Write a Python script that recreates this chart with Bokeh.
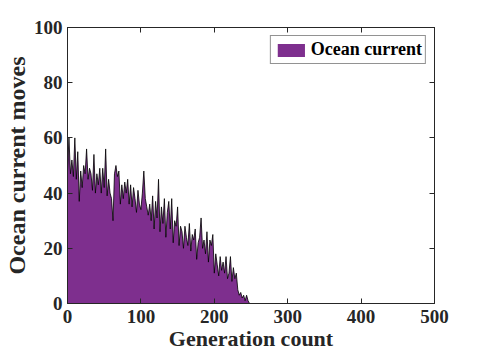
from bokeh.plotting import figure
from bokeh.models import Range1d, LinearAxis, FixedTicker, Legend, LegendItem, ColumnDataSource
from bokeh.embed import file_html
from bokeh.resources import INLINE

generations = list(range(0, 252, 2))
moves = [48, 60, 47, 52, 46, 60, 45, 55, 37, 48,
         42, 50, 47, 56, 45, 49, 47, 41, 54, 40,
         47, 43, 49, 40, 49, 42, 56, 39, 45, 40,
         38, 30, 47, 50, 46, 48, 36, 43, 38, 44,
         40, 45, 36, 43, 35, 42, 38, 33, 41, 36,
         34, 40, 48, 38, 35, 32, 36, 30, 39, 27,
         37, 31, 45, 26, 35, 29, 38, 24, 33, 37,
         27, 38, 22, 30, 28, 35, 21, 28, 26, 20,
         28, 24, 21, 29, 19, 25, 23, 27, 16, 22,
         24, 31, 20, 23, 18, 26, 15, 23, 21, 25,
         11, 18, 14, 10, 17, 12, 15, 11, 17, 9,
         11, 17, 8, 13, 9, 11, 5, 3, 4, 2,
         3, 1, 3, 1, 0, 0]
x_ticks = [0, 100, 200, 300, 400, 500]
y_ticks = [0, 20, 40, 60, 80, 100]
series_name = "Ocean current"

FONT = "Liberation Serif"
TXT = "#262626"

src = ColumnDataSource(dict(x=generations, y=moves))

p = figure(width=472, height=356, output_backend="svg", toolbar_location=None,
           x_range=Range1d(0, 500), y_range=Range1d(0, 100),
           min_border_left=66, min_border_right=38, min_border_top=27, min_border_bottom=53)
p.grid.visible = False
p.outline_line_color = TXT
p.outline_line_width = 1

area = p.varea(x="x", y1=0, y2="y", source=src, fill_color="#7E2F8E")
p.line(x="x", y="y", source=src, line_color="black", line_width=0.8)

def style(ax, labels=True, label_size="22px"):
    ax.axis_line_color = TXT
    ax.major_tick_line_color = TXT
    ax.major_tick_in = 5
    ax.major_tick_out = 0
    ax.minor_tick_line_color = None
    ax.major_label_text_font = FONT
    ax.major_label_text_font_style = "bold"
    ax.major_label_text_font_size = "19px"
    ax.major_label_text_color = TXT
    ax.axis_label_text_font = FONT
    ax.axis_label_text_font_style = "bold"
    ax.axis_label_text_font_size = label_size
    ax.axis_label_text_color = TXT
    if not labels:
        ax.major_label_text_font_size = "0px"
        ax.major_label_text_color = None

p.xaxis.ticker = FixedTicker(ticks=x_ticks)
p.yaxis.ticker = FixedTicker(ticks=y_ticks)
p.xaxis.axis_label = "Generation count"
p.yaxis.axis_label = "Ocean current moves"
p.xaxis.major_label_standoff = 6
p.yaxis.major_label_standoff = 5
p.xaxis.axis_label_standoff = 0
p.yaxis.axis_label_standoff = 1
style(p.xaxis[0], True, "22px")
style(p.yaxis[0], True, "24px")

top = LinearAxis(ticker=FixedTicker(ticks=x_ticks))
right = LinearAxis(ticker=FixedTicker(ticks=y_ticks))
style(top, False)
style(right, False)
p.add_layout(top, "above")
p.add_layout(right, "right")

legend = Legend(items=[LegendItem(label=series_name, renderers=[area])],
                location="top_right", margin=8, padding=3, spacing=0,
                glyph_width=34, glyph_height=16, label_standoff=3,
                label_text_font=FONT, label_text_font_style="bold",
                label_text_font_size="18px", label_text_color="black",
                border_line_color=TXT, border_line_width=1.2,
                label_height=16)
p.add_layout(legend, "center")

open("out.html", "w").write(file_html(p, INLINE))
